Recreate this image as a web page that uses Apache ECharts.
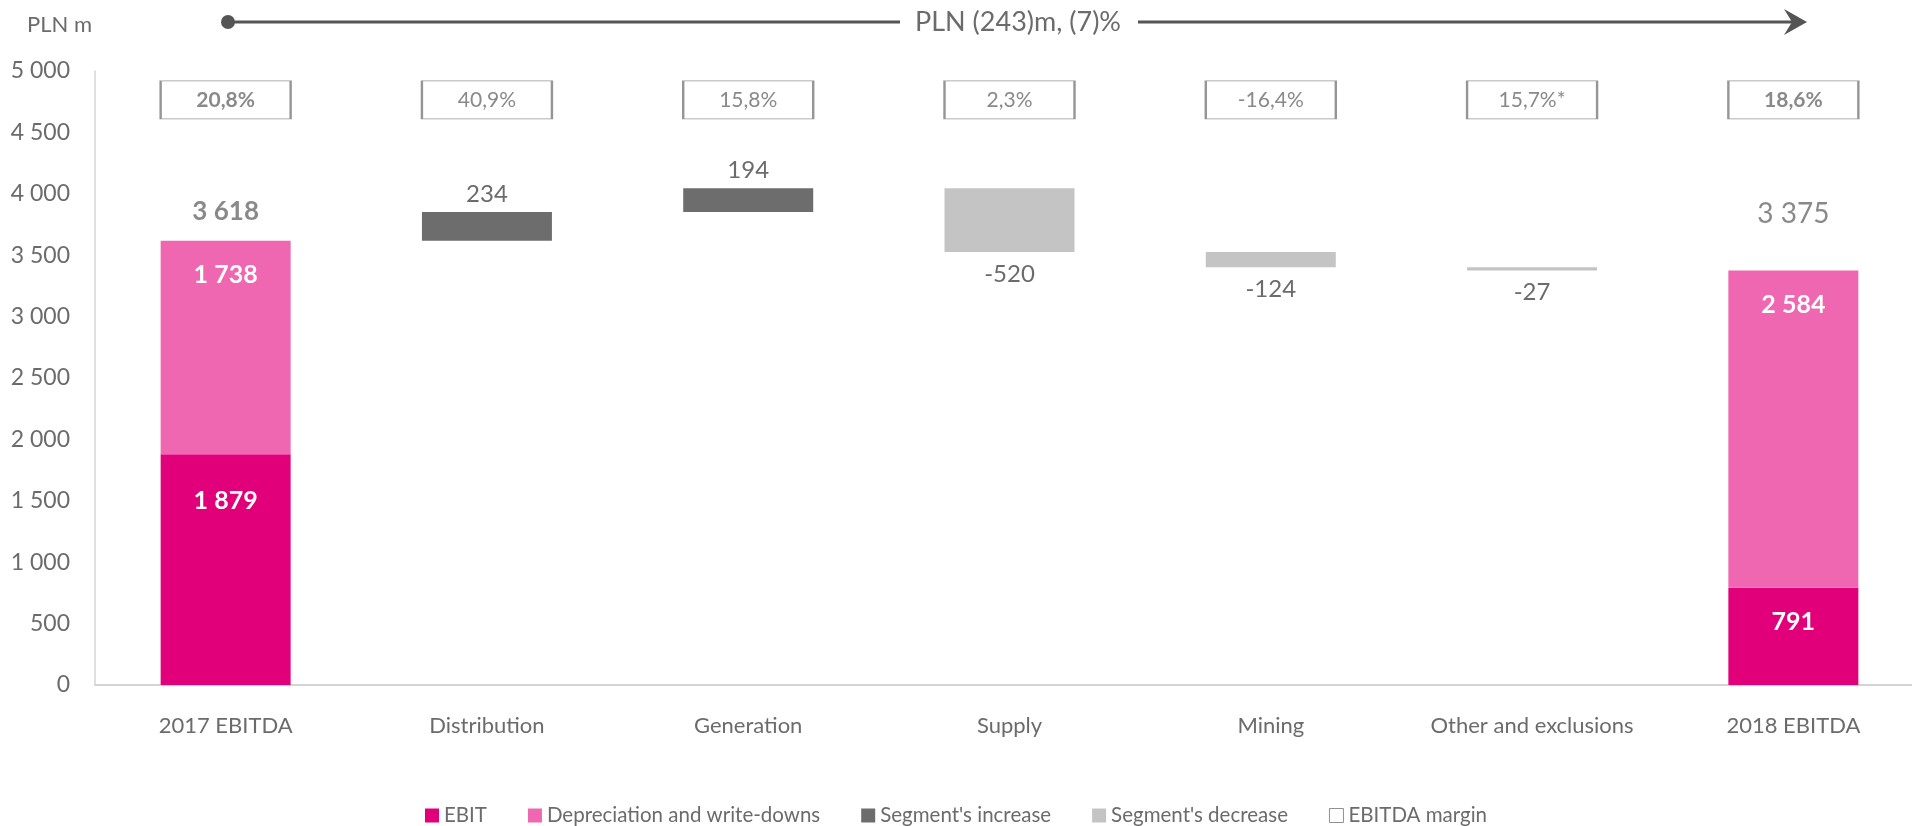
<!DOCTYPE html>
<html>
<head>
<meta charset="utf-8">
<title>EBITDA bridge 2017-2018</title>
<script src="https://cdn.jsdelivr.net/npm/echarts@6/dist/echarts.min.js"></script>
<style>
  html, body { margin: 0; padding: 0; background: #fff; }
  #chart { width: 1912px; height: 826px; }
</style>
</head>
<body>
<div id="chart"></div>
<script>
// data (PLN m)
const categories = ['2017 EBITDA', 'Distribution', 'Generation', 'Supply', 'Mining', 'Other and exclusions', '2018 EBITDA'];
const ebit = [1879, null, null, null, null, null, 791];
const depreciation = [1738, null, null, null, null, null, 2584];
const totals = [3618, null, null, null, null, null, 3375];
const segmentChanges = [null, 234, 194, -520, -124, -27, null];
const margins = ['20,8%', '40,9%', '15,8%', '2,3%', '-16,4%', '15,7%*', '18,6%'];
const yTicks = [0, 500, 1000, 1500, 2000, 2500, 3000, 3500, 4000, 4500, 5000];

const TEXT = '#6b6b6b';
const FONT = 'Lato';
const MARGIN_ROW = 4765; // where the margin boxes sit on the value axis

const fmt = v => String(v).replace(/\B(?=(\d{3})+(?!\d))/g, ' ');

// waterfall: invisible base + visible increase / decrease
const base = [], inc = [], dec = [];
let running = totals[0];
segmentChanges.forEach((c, i) => {
  if (c === null) { base.push(null); inc.push(null); dec.push(null); return; }
  if (c >= 0) { base.push(running); inc.push(c); dec.push(null); }
  else { base.push(running + c); inc.push(null); dec.push(-c); }
  running += c;
});

const chart = echarts.init(document.getElementById('chart'));

chart.setOption({
  animation: false,
  textStyle: { fontFamily: FONT },
  title: {
    text: 'PLN m', left: 22, top: 9,
    textStyle: { fontSize: 22, fontWeight: 'normal', color: TEXT, fontFamily: FONT }
  },
  grid: { left: 95, width: 1829, top: 71, bottom: 141, outerBoundsMode: 'none' },
  legend: {
    top: 800, left: 'center', icon: 'rect', itemWidth: 14, itemHeight: 14, itemGap: 41,
    textStyle: { fontSize: 20.5, color: TEXT, fontFamily: FONT },
    data: [
      'EBIT', 'Depreciation and write-downs', "Segment's increase", "Segment's decrease",
      { name: 'EBITDA margin', itemStyle: { color: '#fff', borderColor: '#777', borderWidth: 1 } }
    ]
  },
  xAxis: {
    type: 'category', data: categories,
    axisLine: { lineStyle: { color: '#d4d4d4', width: 2 } },
    axisTick: { show: false },
    axisLabel: { color: TEXT, fontSize: 22, margin: 30, interval: 0 }
  },
  yAxis: {
    type: 'value', min: 0, max: 5000, interval: 500,
    axisLine: { show: true, lineStyle: { color: '#d4d4d4', width: 1.5 } },
    axisTick: { show: false },
    splitLine: { show: false },
    axisLabel: {
      color: TEXT, fontSize: 23, margin: 25,
      formatter: v => yTicks.includes(v) ? fmt(v) : ''
    }
  },
  series: [
    {
      name: 'EBIT', type: 'bar', stack: 'w', barWidth: 130,
      itemStyle: { color: '#e2007a' },
      data: ebit.map((v, i) => v === null ? null : {
        value: v, label: { distance: i === 0 ? 34 : 22 }
      }),
      label: {
        show: true, position: 'insideTop', distance: 22, color: '#fff',
        fontSize: 25, fontWeight: 'bold', formatter: p => fmt(p.value)
      }
    },
    {
      name: 'Depreciation and write-downs', type: 'bar', stack: 'w', barWidth: 130,
      itemStyle: { color: '#ee67b0' },
      data: depreciation,
      label: {
        show: true, position: 'insideTop', distance: 22, color: '#fff',
        fontSize: 25, fontWeight: 'bold', formatter: p => fmt(p.value)
      }
    },
    {
      name: 'base', type: 'bar', stack: 'w', barWidth: 130, silent: true,
      itemStyle: { color: 'transparent' },
      data: base
    },
    {
      name: "Segment's increase", type: 'bar', stack: 'w', barWidth: 130,
      itemStyle: { color: '#6d6d6d' },
      data: inc,
      label: {
        show: true, position: 'top', distance: 6, color: TEXT, fontSize: 24,
        formatter: p => fmt(p.value)
      }
    },
    {
      name: "Segment's decrease", type: 'bar', stack: 'w', barWidth: 130,
      itemStyle: { color: '#c4c4c4' },
      data: dec,
      label: {
        show: true, position: 'bottom', distance: 10, color: TEXT, fontSize: 24,
        formatter: p => '-' + fmt(p.value)
      }
    },
    {
      name: 'totals', type: 'scatter', symbolSize: 0, silent: true,
      data: totals.map((v, i) => v === null ? null : {
        value: [i, v],
        label: i === 0
          ? { distance: 16, fontWeight: 'bold', fontSize: 26 }
          : { distance: 43, fontWeight: 'normal', fontSize: 28 }
      }),
      label: {
        show: true, position: 'top', color: TEXT,
        formatter: p => fmt(p.value[1])
      }
    },
    {
      name: 'EBITDA margin', type: 'scatter', symbol: 'rect', symbolSize: [130, 38],
      itemStyle: { color: '#fff', borderColor: '#7a7a7a', borderWidth: 1.3 },
      data: margins.map((m, i) => ({
        value: [i, MARGIN_ROW], name: m,
        label: { fontWeight: (i === 0 || i === margins.length - 1) ? 'bold' : 'normal' }
      })),
      label: {
        show: true, position: 'inside', color: TEXT, fontSize: 21,
        formatter: p => p.name
      }
    }
  ],
  graphic: [
    { type: 'circle', shape: { cx: 228, cy: 22, r: 7 }, style: { fill: '#555' } },
    { type: 'line', shape: { x1: 228, y1: 22, x2: 900, y2: 22 }, style: { stroke: '#555', lineWidth: 3 } },
    { type: 'line', shape: { x1: 1138, y1: 22, x2: 1798, y2: 22 }, style: { stroke: '#555', lineWidth: 3 } },
    { type: 'polygon', shape: { points: [[1807, 22], [1784, 9], [1792, 22], [1784, 35]] }, style: { fill: '#555' } },
    {
      type: 'text', x: 1018, y: 22,
      style: { text: 'PLN (243)m, (7)%', fill: TEXT, font: '27px ' + FONT, textAlign: 'center', textVerticalAlign: 'middle' }
    }
  ]
});
</script>
</body>
</html>
